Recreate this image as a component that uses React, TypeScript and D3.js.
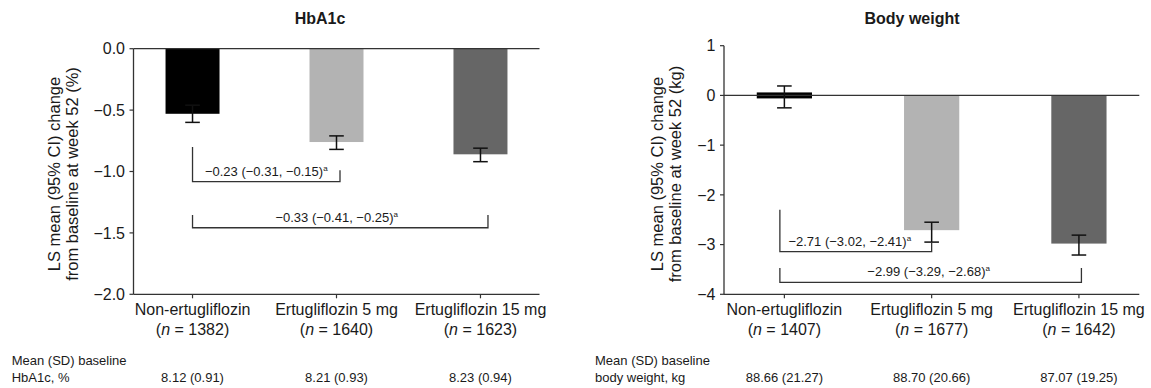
import React from 'react';
import * as d3 from 'd3';

// ---------- data ----------
const categories = ['Non-ertugliflozin', 'Ertugliflozin 5 mg', 'Ertugliflozin 15 mg'];
const barColors = ['#000000', '#b3b3b3', '#666666'];

const hbaN = ['1382', '1640', '1623'];
const hbaMean = [-0.53, -0.76, -0.86];
const hbaLow = [-0.6, -0.82, -0.92];
const hbaHigh = [-0.46, -0.71, -0.81];
const hbaTicks = [0, -0.5, -1, -1.5, -2];
const hbaBaseline = ['8.12 (0.91)', '8.21 (0.93)', '8.23 (0.94)'];
const hbaDiffLabels = ['\u22120.23 (\u22120.31, \u22120.15)', '\u22120.33 (\u22120.41, \u22120.25)'];

const bwN = ['1407', '1677', '1642'];
const bwMean = [-0.03, -2.71, -2.98];
const bwLow = [-0.25, -2.95, -3.21];
const bwHigh = [0.19, -2.55, -2.81];
const bwTicks = [1, 0, -1, -2, -3, -4];
const bwBaseline = ['88.66 (21.27)', '88.70 (20.66)', '87.07 (19.25)'];
const bwDiffLabels = ['\u22122.71 (\u22123.02, \u22122.41)', '\u22122.99 (\u22123.29, \u22122.68)'];

const FONT = '"Liberation Sans", Arial, Helvetica, sans-serif';
const INK = '#1a1a1a';
const AXIS = '#333333';

type Bracket = {
  to: number;
  label: string;
  leftTop: number;
  rightTop: number;
  level: number;
  dxL: number;
  dxR: number;
  dxText: number;
};

type PanelProps = {
  title: string;
  titleX: number;
  yTitle2: string;
  yTitleX: number;
  xRange: [number, number];
  yDomain: [number, number];
  yRange: [number, number];
  ticks: number[];
  tickFmt: (v: number) => string;
  mean: number[];
  low: number[];
  high: number[];
  ns: string[];
  brackets: Bracket[];
  tableX: number;
  tableLabel2: string;
  baseline: string[];
};

function Panel(p: PanelProps) {
  const x = d3.scalePoint<string>().domain(categories).range(p.xRange).padding(0.41);
  const y = d3.scaleLinear().domain(p.yDomain).range(p.yRange);
  const step = x.step();
  const bw = step * 0.375;
  const x0 = p.xRange[0];
  const x1 = p.xRange[1];
  const yTop = y(p.yDomain[1]);
  const yBot = y(p.yDomain[0]);
  const y0 = y(0);
  const yMid = 174;
  const cap = 7.3;

  return (
    <g fontFamily={FONT} fill={INK}>
      <text x={p.titleX} y={24} fontSize={16} fontWeight="bold" textAnchor="middle">
        {p.title}
      </text>
      <g transform={`translate(${p.yTitleX},${yMid}) rotate(-90)`} fontSize={16.5} textAnchor="middle">
        <text x={0} y={0} dy="0.35em">LS mean (95% CI) change</text>
        <text x={0} y={18} dy="0.35em">{p.yTitle2}</text>
      </g>

      {/* bars */}
      {p.mean.map((v, i) => {
        const cx = x(categories[i])!;
        let top = Math.min(y(v), y0);
        let h = Math.abs(y(v) - y0);
        if (h < 6) {
          top = y0 - 3;
          h = 6;
        }
        return <rect key={'b' + i} x={cx - bw / 2} y={top} width={bw} height={h} fill={barColors[i]} />;
      })}

      {/* axes */}
      <line x1={x0} x2={x0} y1={yTop} y2={yBot} stroke={AXIS} strokeWidth={1.3} />
      <line x1={x0} x2={x1} y1={y0} y2={y0} stroke={AXIS} strokeWidth={1.3} />
      <line x1={x0} x2={x1} y1={yBot} y2={yBot} stroke={AXIS} strokeWidth={1.3} />
      {p.ticks.map((t) => (
        <g key={'t' + t}>
          <line x1={x0 - 4} x2={x0} y1={y(t)} y2={y(t)} stroke={AXIS} strokeWidth={1.2} />
          <text x={x0 - 8.5} y={y(t)} dy="0.36em" fontSize={16} textAnchor="end">
            {p.tickFmt(t)}
          </text>
        </g>
      ))}
      {categories.map((c) => (
        <line key={'xt' + c} x1={x(c)!} x2={x(c)!} y1={yBot} y2={yBot + 4} stroke={AXIS} strokeWidth={1.2} />
      ))}

      {/* error bars */}
      {p.mean.map((_, i) => {
        const cx = x(categories[i])!;
        return (
          <g key={'e' + i} stroke="#111" strokeWidth={1.5}>
            <line x1={cx} x2={cx} y1={y(p.low[i])} y2={y(p.high[i])} />
            <line x1={cx - cap} x2={cx + cap} y1={y(p.low[i])} y2={y(p.low[i])} />
            <line x1={cx - cap} x2={cx + cap} y1={y(p.high[i])} y2={y(p.high[i])} />
          </g>
        );
      })}

      {/* comparison brackets */}
      {p.brackets.map((b, k) => {
        const xl = x(categories[0])! + b.dxL;
        const xr = x(categories[b.to])! + b.dxR;
        const yl = y(b.level);
        return (
          <g key={'br' + k}>
            <path
              d={`M${xl},${y(b.leftTop)}V${yl}H${xr}V${y(b.rightTop)}`}
              fill="none"
              stroke={AXIS}
              strokeWidth={1.3}
            />
            <text x={(xl + xr) / 2 + b.dxText} y={yl - 6} fontSize={13} textAnchor="middle">
              {b.label}
              <tspan fontSize={8} dy={-5}>a</tspan>
            </text>
          </g>
        );
      })}

      {/* category labels */}
      {categories.map((c, i) => (
        <g key={'cl' + c} fontSize={16} textAnchor="middle">
          <text x={x(c)!} y={315}>{c}</text>
          <text x={x(c)!} y={335}>
            (<tspan fontStyle="italic">n</tspan> = {p.ns[i]})
          </text>
        </g>
      ))}

      {/* baseline table */}
      <g fontSize={13}>
        <text x={p.tableX} y={365}>Mean (SD) baseline</text>
        <text x={p.tableX} y={381.7}>{p.tableLabel2}</text>
        {categories.map((c, i) => (
          <text key={'bl' + c} x={x(c)!} y={381.7} textAnchor="middle">
            {p.baseline[i]}
          </text>
        ))}
      </g>
    </g>
  );
}

export default function App() {
  const fmt1 = d3.format('.1f');
  const fmt0 = d3.format('d');
  return (
    <svg
      width={1151}
      height={388}
      viewBox="0 0 1151 388"
      style={{ position: 'absolute', left: 0, top: 0, background: '#fff' }}
    >
      <rect x={0} y={0} width={1151} height={388} fill="#fff" />
      <Panel
        title="HbA1c"
        titleX={320}
        yTitle2="from baseline at week 52 (%)"
        yTitleX={54}
        xRange={[133.5, 539.5]}
        yDomain={[-2, 0]}
        yRange={[294.3, 48.7]}
        ticks={hbaTicks}
        tickFmt={(v) => fmt1(v)}
        mean={hbaMean}
        low={hbaLow}
        high={hbaHigh}
        ns={hbaN}
        brackets={[
          { to: 1, label: hbaDiffLabels[0], leftTop: -0.8, rightTop: -0.99, level: -1.083, dxL: 0, dxR: 3.5, dxText: 0 },
          { to: 2, label: hbaDiffLabels[1], leftTop: -1.354, rightTop: -1.354, level: -1.458, dxL: 0, dxR: 7.5, dxText: -3.5 },
        ]}
        tableX={11.7}
        tableLabel2="HbA1c, %"
        baseline={hbaBaseline}
      />
      <Panel
        title="Body weight"
        titleX={912}
        yTitle2="from baseline at week 52 (kg)"
        yTitleX={657}
        xRange={[724, 1139.3]}
        yDomain={[-4, 1]}
        yRange={[294.3, 45.7]}
        ticks={bwTicks}
        tickFmt={(v) => fmt0(v)}
        mean={bwMean}
        low={bwLow}
        high={bwHigh}
        ns={bwN}
        brackets={[
          { to: 1, label: bwDiffLabels[0], leftTop: -2.3, rightTop: -2.95, level: -3.14, dxL: -4.5, dxR: 0, dxText: -6 },
          { to: 2, label: bwDiffLabels[1], leftTop: -3.47, rightTop: -3.47, level: -3.76, dxL: -4.5, dxR: 2.5, dxText: -2 },
        ]}
        tableX={595}
        tableLabel2="body weight, kg"
        baseline={bwBaseline}
      />
    </svg>
  );
}
